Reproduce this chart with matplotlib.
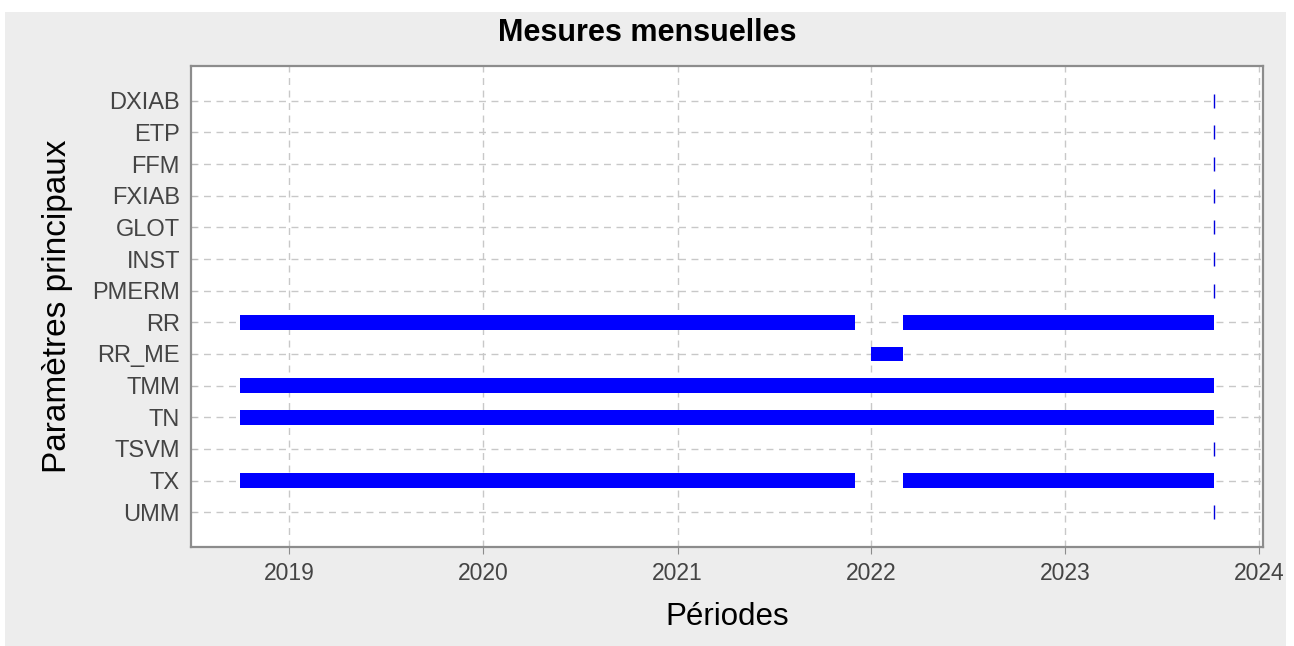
import matplotlib
matplotlib.use("Agg")
import matplotlib.pyplot as plt
import matplotlib.dates as mdates
from matplotlib.patches import Rectangle
from datetime import date

plt.rcParams['font.family'] = ['Liberation Sans', 'DejaVu Sans']

# parameters, top to bottom
params = ["DXIAB", "ETP", "FFM", "FXIAB", "GLOT", "INST", "PMERM",
          "RR", "RR_ME", "TMM", "TN", "TSVM", "TX", "UMM"]

# periods with monthly measurements
bar_params = ["RR", "RR", "RR_ME", "TMM", "TN", "TX", "TX"]
bar_starts = ["2018-10-01", "2022-03-01", "2022-01-01", "2018-10-01",
              "2018-10-01", "2018-10-01", "2022-03-01"]
bar_ends = ["2021-12-01", "2023-10-08", "2022-03-01", "2023-10-08",
            "2023-10-08", "2021-12-01", "2023-10-08"]

# single-date entries
point_params = ["DXIAB", "ETP", "FFM", "FXIAB", "GLOT", "INST", "PMERM",
                "TSVM", "UMM"]
point_dates = ["2023-10-08"] * len(point_params)

years = [2019, 2020, 2021, 2022, 2023, 2024]

ypos = {p: len(params) - 1 - i for i, p in enumerate(params)}


def d(s):
    return mdates.date2num(date.fromisoformat(s))


fig = plt.figure(figsize=(12.94, 6.46), dpi=100)
fig.patches.append(Rectangle((5 / 1294, 0), 1281 / 1294, 634 / 646,
                             transform=fig.transFigure, facecolor="#ededed",
                             edgecolor="none", zorder=-10))
ax = fig.add_axes([191 / 1294, 1 - 547 / 646, 1072 / 1294, 481 / 646])

for p, s, e in zip(bar_params, bar_starts, bar_ends):
    ax.barh(ypos[p], d(e) - d(s), left=d(s), height=0.47, color="#0000ff",
            zorder=3)

ax.plot([d(x) for x in point_dates], [ypos[p] for p in point_params],
        linestyle="none", marker="|", markersize=10.5, markeredgewidth=1,
        color="#0000dd", zorder=3)

ax.set_yticks([ypos[p] for p in params])
ax.set_yticklabels(params)
ax.set_ylim(-1.1, len(params) - 1 + 1.1)

ax.set_xticks([d(f"{y}-01-01") for y in years])
ax.set_xticklabels([str(y) for y in years])
ax.set_xlim(d("2018-06-30"), d("2024-01-08"))

ax.grid(True, linestyle=(0, (5, 4)), color="#c8c8c8", linewidth=1, zorder=0)
ax.set_axisbelow(True)
for sp in ax.spines.values():
    sp.set_color("#8c8c8c")
    sp.set_linewidth(1.6)

ax.tick_params(axis="y", direction="in", length=4, color="#bbbbbb",
               labelsize=17, labelcolor="#444444", pad=8)
ax.tick_params(axis="x", direction="out", length=5, color="#8c8c8c",
               labelsize=16.5, labelcolor="#444444", pad=6)

fig.suptitle("Mesures mensuelles", fontsize=22, fontweight="bold",
             x=0.5, y=1 - 33 / 646, va="center")
ax.set_xlabel("Périodes", fontsize=22.5, labelpad=12)
ax.set_ylabel("Paramètres principaux", fontsize=24, labelpad=14)

fig.savefig("out.png", dpi=100, facecolor="white")
